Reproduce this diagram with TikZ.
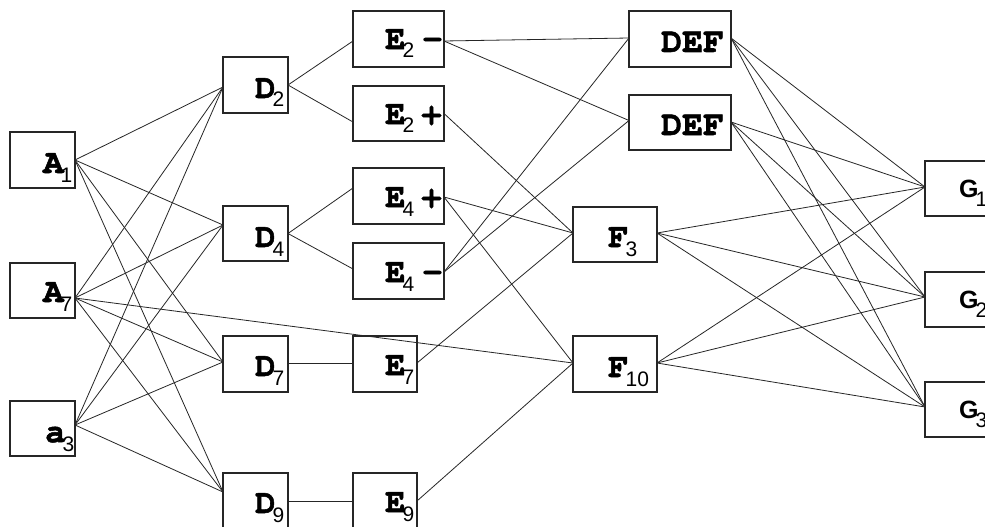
\documentclass[tikz,border=0pt]{standalone}
\usepackage{fontspec}
\usetikzlibrary{calc}
\newfontfamily\monof{TeX Gyre Cursor}[BoldFeatures={FakeBold=1.5}]
\newfontfamily\subf{Liberation Sans}
\newcommand\sbs[1]{\kern-3pt\raisebox{-9pt}{\fontsize{21}{21}\subf\mdseries #1}}
\begin{document}
\begin{tikzpicture}[x=1pt,y=-1pt,
  box/.style={draw=black!85, line width=1.2pt, inner sep=0pt, outer sep=0pt, rectangle, fill=none},
  lab/.style={inner sep=0pt, anchor=base west, font=\fontsize{34}{34}\monof\bfseries},
  dlab/.style={inner sep=0pt, anchor=base west, font=\fontsize{35}{35}\monof\bfseries},
  glab/.style={inner sep=0pt, anchor=base west, font=\fontsize{25}{25}\subf\bfseries},
  ln/.style={draw=black!85, line width=0.8pt}]
\useasboundingbox (0,0) rectangle (985,527);
\fill[white] (0,0) rectangle (985,527);
% boxes
\node[box, minimum width=65pt, minimum height=56pt] (A1) at (42.5,160) {};
\node[box, minimum width=65pt, minimum height=55pt] (A7) at (42.5,290.5) {};
\node[box, minimum width=65pt, minimum height=55pt] (a3) at (42.5,428.5) {};
\node[box, minimum width=65pt, minimum height=56pt] (D2) at (255.5,85) {};
\node[box, minimum width=65pt, minimum height=55pt] (D4) at (255.5,233.5) {};
\node[box, minimum width=65pt, minimum height=56pt] (D7) at (255.5,364) {};
\node[box, minimum width=65pt, minimum height=56pt] (D9) at (255.5,501) {};
\node[box, minimum width=91pt, minimum height=56pt] (E2m) at (398.5,39) {};
\node[box, minimum width=91pt, minimum height=55pt] (E2p) at (398.5,113.5) {};
\node[box, minimum width=91pt, minimum height=56pt] (E4p) at (398.5,196) {};
\node[box, minimum width=91pt, minimum height=56pt] (E4m) at (398.5,271) {};
\node[box, minimum width=64pt, minimum height=56pt] (E7) at (385,364) {};
\node[box, minimum width=64pt, minimum height=56pt] (E9) at (385,501) {};
\node[box, minimum width=102pt, minimum height=56pt] (DEFa) at (680,39) {};
\node[box, minimum width=102pt, minimum height=55pt] (DEFb) at (680,122.5) {};
\node[box, minimum width=84pt, minimum height=55pt] (F3) at (615,234.5) {};
\node[box, minimum width=84pt, minimum height=56pt] (F10) at (615,364) {};
\node[box, minimum width=70pt, minimum height=55pt] (G1) at (960,188.5) {};
\node[box, minimum width=70pt, minimum height=55pt] (G2) at (960,299.5) {};
\node[box, minimum width=70pt, minimum height=55pt] (G3) at (960,409.5) {};
% labels
\node[lab] (lA1) at (43,173) {A\sbs{1}};
\node[lab] (lA7) at (43,302) {A\sbs{7}};
\node[lab] (la3) at (45,442) {a\sbs{3}};
\node[lab] (lD2) at (255,98) {D\sbs{2}};
\node[lab] (lD4) at (255,247) {D\sbs{4}};
\node[lab] (lD7) at (255,376) {D\sbs{7}};
\node[lab] (lD9) at (255,513) {D\sbs{9}};
\node[lab] (lE2m) at (385,49) {E\sbs{2}\kern8pt-};
\node[lab] (lE2p) at (385,124) {E\sbs{2}\kern7pt+};
\node[lab] (lE4p) at (385,207) {E\sbs{4}\kern7pt+};
\node[lab] (lE4m) at (385,282) {E\sbs{4}\kern8pt-};
\node[lab] (lE7) at (385,375) {E\sbs{7}};
\node[lab] (lE9) at (385,512) {E\sbs{9}};
\node[dlab] (lDEFa) at (661,52) {DEF};
\node[dlab] (lDEFb) at (661,135) {DEF};
\node[lab] (lF3) at (608,247) {F\sbs{3}};
\node[lab] (lF10) at (608,377) {F\sbs{10}};
\node[glab] (lG1) at (959,197) {G\sbs{1}};
\node[glab] (lG2) at (959,308) {G\sbs{2}};
\node[glab] (lG3) at (959,418) {G\sbs{3}};
% connection points
\coordinate (pA1) at (A1.east);
\coordinate (pA7) at ($(A7.east)+(0,7.5)$);
\coordinate (pa3) at ($(a3.east)+(0,-3.5)$);
% A -> D
\foreach \s in {pA1,pA7,pa3}{
  \draw[ln] (\s) -- ($(D2.west)+(0,2)$);
  \draw[ln] (\s) -- ($(D4.west)+(0,-8.5)$);
  \draw[ln] (\s) -- ($(D7.west)+(0,-2)$);
  \draw[ln] (\s) -- ($(D9.west)+(0,-9)$);
}
\draw[ln] (pA7) -- ($(F10.west)+(0,-1)$);
% D -> E
\draw[ln] (D2.east) -- ($(E2m.west)+(0,2)$);
\draw[ln] (D2.east) -- ($(E2p.west)+(0,8.5)$);
\draw[ln] (D4.east) -- ($(E4p.west)+(0,-8)$);
\draw[ln] (D4.east) -- ($(E4m.west)+(0,-2)$);
\draw[ln] ($(D7.east)+(0,-1)$) -- ($(E7.west)+(0,-1)$);
\draw[ln] (D9.east) -- (E9.west);
% E -> DEF / F
\draw[ln] ($(E2m.east)+(0,2)$) -- ($(DEFa.west)+(0,-1)$);
\draw[ln] ($(E2m.east)+(0,2)$) -- ($(DEFb.west)+(0,-2)$);
\draw[ln] (E2p.east) -- ($(F3.west)+(0,-1.5)$);
\draw[ln] ($(E4p.east)+(0,1)$) -- ($(F3.west)+(0,-1.5)$);
\draw[ln] ($(E4p.east)+(0,1)$) -- ($(F10.west)+(0,-1)$);
\draw[ln] ($(E4m.east)+(0,1)$) -- ($(DEFa.west)+(0,-1)$);
\draw[ln] ($(E4m.east)+(0,1)$) -- ($(DEFb.west)+(0,-2)$);
\draw[ln] ($(E7.east)+(0,-1)$) -- ($(F3.west)+(0,-1.5)$);
\draw[ln] (E9.east) -- ($(F10.west)+(0,-1)$);
% DEF / F -> G
\foreach \s/\d in {DEFa/-1,DEFb/-0.5,F3/-1.5,F10/-1}{
  \draw[ln] ($(\s.east)+(0,\d)$) -- ($(G1.west)+(0,-1.5)$);
  \draw[ln] ($(\s.east)+(0,\d)$) -- ($(G2.west)+(0,-2.5)$);
  \draw[ln] ($(\s.east)+(0,\d)$) -- ($(G3.west)+(0,-2.5)$);
}
\end{tikzpicture}
\end{document}
